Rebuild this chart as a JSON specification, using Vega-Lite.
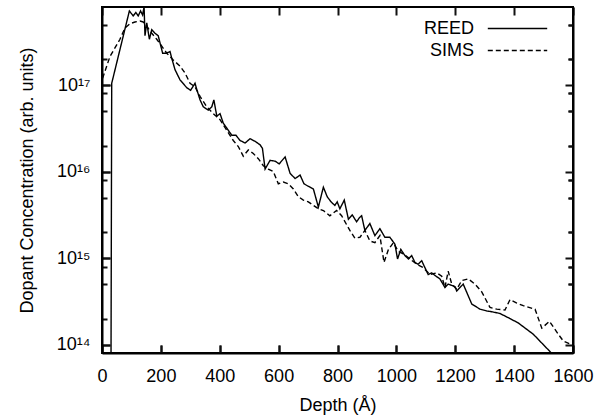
{
  "$schema": "https://vega.github.io/schema/vega-lite/v6.json",
  "width": 471,
  "height": 346,
  "autosize": "none",
  "padding": {"left": 102, "top": 7, "right": 32, "bottom": 66},
  "background": "white",
  "config": {
    "view": {"stroke": "black", "strokeWidth": 2},
    "font": "Liberation Sans",
    "axis": {
      "labelFont": "Liberation Sans",
      "titleFont": "Liberation Sans",
      "labelFontSize": 18,
      "titleFontSize": 18,
      "titleFontWeight": "normal",
      "labelColor": "black",
      "titleColor": "black",
      "labelFlush": false,
      "labelOverlap": false
    },
    "legend": {
      "labelFont": "Liberation Sans"
    }
  },
  "datasets": {
    "profiles": [
      {"series": "REED", "depth": 30, "conc": 1e13},
      {"series": "REED", "depth": 33, "conc": 1.05e17},
      {"series": "REED", "depth": 93, "conc": 7.2e17},
      {"series": "REED", "depth": 106, "conc": 6.31e17},
      {"series": "REED", "depth": 115, "conc": 6.92e17},
      {"series": "REED", "depth": 123, "conc": 6.31e17},
      {"series": "REED", "depth": 131, "conc": 7.2e17},
      {"series": "REED", "depth": 138, "conc": 6.46e17},
      {"series": "REED", "depth": 143, "conc": 8.1e17},
      {"series": "REED", "depth": 146, "conc": 3.72e17},
      {"series": "REED", "depth": 152, "conc": 5.25e17},
      {"series": "REED", "depth": 161, "conc": 3.39e17},
      {"series": "REED", "depth": 169, "conc": 4.37e17},
      {"series": "REED", "depth": 180, "conc": 3.98e17},
      {"series": "REED", "depth": 191, "conc": 3.72e17},
      {"series": "REED", "depth": 197, "conc": 3.09e17},
      {"series": "REED", "depth": 206, "conc": 2.34e17},
      {"series": "REED", "depth": 220, "conc": 2.34e17},
      {"series": "REED", "depth": 231, "conc": 2.45e17},
      {"series": "REED", "depth": 237, "conc": 2.04e17},
      {"series": "REED", "depth": 248, "conc": 1.51e17},
      {"series": "REED", "depth": 265, "conc": 1.15e17},
      {"series": "REED", "depth": 288, "conc": 9.33e16},
      {"series": "REED", "depth": 301, "conc": 8.71e16},
      {"series": "REED", "depth": 316, "conc": 1.05e17},
      {"series": "REED", "depth": 322, "conc": 8.91e16},
      {"series": "REED", "depth": 333, "conc": 6.76e16},
      {"series": "REED", "depth": 344, "conc": 5.62e16},
      {"series": "REED", "depth": 361, "conc": 5.13e16},
      {"series": "REED", "depth": 373, "conc": 5.62e16},
      {"series": "REED", "depth": 380, "conc": 6.76e16},
      {"series": "REED", "depth": 390, "conc": 4.37e16},
      {"series": "REED", "depth": 401, "conc": 4.68e16},
      {"series": "REED", "depth": 412, "conc": 3.63e16},
      {"series": "REED", "depth": 441, "conc": 2.63e16},
      {"series": "REED", "depth": 455, "conc": 2.63e16},
      {"series": "REED", "depth": 469, "conc": 2.29e16},
      {"series": "REED", "depth": 486, "conc": 2.14e16},
      {"series": "REED", "depth": 503, "conc": 2.4e16},
      {"series": "REED", "depth": 520, "conc": 2.24e16},
      {"series": "REED", "depth": 537, "conc": 2.04e16},
      {"series": "REED", "depth": 545, "conc": 1.86e16},
      {"series": "REED", "depth": 554, "conc": 1.07e16},
      {"series": "REED", "depth": 571, "conc": 1.35e16},
      {"series": "REED", "depth": 588, "conc": 1.32e16},
      {"series": "REED", "depth": 602, "conc": 1.23e16},
      {"series": "REED", "depth": 622, "conc": 1.48e16},
      {"series": "REED", "depth": 639, "conc": 9.55e15},
      {"series": "REED", "depth": 656, "conc": 8.32e15},
      {"series": "REED", "depth": 673, "conc": 9.12e15},
      {"series": "REED", "depth": 686, "conc": 7.24e15},
      {"series": "REED", "depth": 701, "conc": 6.76e15},
      {"series": "REED", "depth": 718, "conc": 6.31e15},
      {"series": "REED", "depth": 735, "conc": 3.89e15},
      {"series": "REED", "depth": 752, "conc": 6.61e15},
      {"series": "REED", "depth": 765, "conc": 5.13e15},
      {"series": "REED", "depth": 778, "conc": 4.47e15},
      {"series": "REED", "depth": 791, "conc": 4.07e15},
      {"series": "REED", "depth": 799, "conc": 4.47e15},
      {"series": "REED", "depth": 808, "conc": 3.72e15},
      {"series": "REED", "depth": 823, "conc": 4.68e15},
      {"series": "REED", "depth": 837, "conc": 2.82e15},
      {"series": "REED", "depth": 850, "conc": 3.16e15},
      {"series": "REED", "depth": 865, "conc": 2.63e15},
      {"series": "REED", "depth": 875, "conc": 2.95e15},
      {"series": "REED", "depth": 882, "conc": 3.09e15},
      {"series": "REED", "depth": 893, "conc": 2.09e15},
      {"series": "REED", "depth": 910, "conc": 2.51e15},
      {"series": "REED", "depth": 927, "conc": 1.82e15},
      {"series": "REED", "depth": 944, "conc": 2.19e15},
      {"series": "REED", "depth": 961, "conc": 1.74e15},
      {"series": "REED", "depth": 978, "conc": 1.74e15},
      {"series": "REED", "depth": 995, "conc": 1.45e15},
      {"series": "REED", "depth": 1004, "conc": 9.77e14},
      {"series": "REED", "depth": 1015, "conc": 1.26e15},
      {"series": "REED", "depth": 1029, "conc": 1.07e15},
      {"series": "REED", "depth": 1041, "conc": 9.77e14},
      {"series": "REED", "depth": 1052, "conc": 1.07e15},
      {"series": "REED", "depth": 1063, "conc": 8.91e14},
      {"series": "REED", "depth": 1074, "conc": 8.51e14},
      {"series": "REED", "depth": 1086, "conc": 9.33e14},
      {"series": "REED", "depth": 1097, "conc": 7.76e14},
      {"series": "REED", "depth": 1108, "conc": 6.46e14},
      {"series": "REED", "depth": 1120, "conc": 6.76e14},
      {"series": "REED", "depth": 1131, "conc": 6.31e14},
      {"series": "REED", "depth": 1148, "conc": 5.75e14},
      {"series": "REED", "depth": 1165, "conc": 4.57e14},
      {"series": "REED", "depth": 1176, "conc": 5.01e14},
      {"series": "REED", "depth": 1199, "conc": 4.68e14},
      {"series": "REED", "depth": 1205, "conc": 4.17e14},
      {"series": "REED", "depth": 1227, "conc": 5.01e14},
      {"series": "REED", "depth": 1256, "conc": 2.95e14},
      {"series": "REED", "depth": 1284, "conc": 2.57e14},
      {"series": "REED", "depth": 1307, "conc": 2.45e14},
      {"series": "REED", "depth": 1324, "conc": 2.4e14},
      {"series": "REED", "depth": 1352, "conc": 2.29e14},
      {"series": "REED", "depth": 1386, "conc": 2.0e14},
      {"series": "REED", "depth": 1414, "conc": 1.78e14},
      {"series": "REED", "depth": 1465, "conc": 1.32e14},
      {"series": "REED", "depth": 1522, "conc": 8.3e13},
      {"series": "REED", "depth": 1560, "conc": 5.6e13},
      {"series": "SIMS", "depth": 2, "conc": 1.2e17},
      {"series": "SIMS", "depth": 27, "conc": 2.14e17},
      {"series": "SIMS", "depth": 61, "conc": 3.39e17},
      {"series": "SIMS", "depth": 78, "conc": 4.57e17},
      {"series": "SIMS", "depth": 95, "conc": 5.13e17},
      {"series": "SIMS", "depth": 112, "conc": 5.37e17},
      {"series": "SIMS", "depth": 129, "conc": 5.5e17},
      {"series": "SIMS", "depth": 140, "conc": 5.37e17},
      {"series": "SIMS", "depth": 152, "conc": 4.79e17},
      {"series": "SIMS", "depth": 169, "conc": 3.98e17},
      {"series": "SIMS", "depth": 186, "conc": 3.39e17},
      {"series": "SIMS", "depth": 203, "conc": 2.82e17},
      {"series": "SIMS", "depth": 220, "conc": 2.34e17},
      {"series": "SIMS", "depth": 242, "conc": 1.95e17},
      {"series": "SIMS", "depth": 265, "conc": 1.66e17},
      {"series": "SIMS", "depth": 282, "conc": 1.38e17},
      {"series": "SIMS", "depth": 299, "conc": 1.05e17},
      {"series": "SIMS", "depth": 316, "conc": 9.55e16},
      {"series": "SIMS", "depth": 333, "conc": 7.41e16},
      {"series": "SIMS", "depth": 356, "conc": 5.62e16},
      {"series": "SIMS", "depth": 378, "conc": 4.68e16},
      {"series": "SIMS", "depth": 401, "conc": 3.98e16},
      {"series": "SIMS", "depth": 446, "conc": 2.29e16},
      {"series": "SIMS", "depth": 463, "conc": 1.95e16},
      {"series": "SIMS", "depth": 480, "conc": 1.51e16},
      {"series": "SIMS", "depth": 497, "conc": 1.78e16},
      {"series": "SIMS", "depth": 514, "conc": 1.62e16},
      {"series": "SIMS", "depth": 531, "conc": 1.41e16},
      {"series": "SIMS", "depth": 548, "conc": 1.17e16},
      {"series": "SIMS", "depth": 565, "conc": 1.07e16},
      {"series": "SIMS", "depth": 582, "conc": 1.0e16},
      {"series": "SIMS", "depth": 599, "conc": 7.24e15},
      {"series": "SIMS", "depth": 616, "conc": 7.59e15},
      {"series": "SIMS", "depth": 633, "conc": 7.24e15},
      {"series": "SIMS", "depth": 650, "conc": 6.31e15},
      {"series": "SIMS", "depth": 667, "conc": 5.13e15},
      {"series": "SIMS", "depth": 684, "conc": 4.68e15},
      {"series": "SIMS", "depth": 701, "conc": 4.47e15},
      {"series": "SIMS", "depth": 718, "conc": 4.07e15},
      {"series": "SIMS", "depth": 735, "conc": 3.72e15},
      {"series": "SIMS", "depth": 752, "conc": 3.55e15},
      {"series": "SIMS", "depth": 774, "conc": 3.09e15},
      {"series": "SIMS", "depth": 797, "conc": 3.55e15},
      {"series": "SIMS", "depth": 814, "conc": 3.09e15},
      {"series": "SIMS", "depth": 842, "conc": 2.09e15},
      {"series": "SIMS", "depth": 859, "conc": 1.7e15},
      {"series": "SIMS", "depth": 876, "conc": 1.74e15},
      {"series": "SIMS", "depth": 893, "conc": 2.09e15},
      {"series": "SIMS", "depth": 910, "conc": 1.58e15},
      {"series": "SIMS", "depth": 927, "conc": 1.51e15},
      {"series": "SIMS", "depth": 944, "conc": 1.82e15},
      {"series": "SIMS", "depth": 958, "conc": 8.91e14},
      {"series": "SIMS", "depth": 973, "conc": 1.26e15},
      {"series": "SIMS", "depth": 990, "conc": 1.51e15},
      {"series": "SIMS", "depth": 1006, "conc": 1.2e15},
      {"series": "SIMS", "depth": 1024, "conc": 1.12e15},
      {"series": "SIMS", "depth": 1046, "conc": 9.77e14},
      {"series": "SIMS", "depth": 1069, "conc": 8.51e14},
      {"series": "SIMS", "depth": 1091, "conc": 7.76e14},
      {"series": "SIMS", "depth": 1114, "conc": 6.46e14},
      {"series": "SIMS", "depth": 1137, "conc": 6.76e14},
      {"series": "SIMS", "depth": 1154, "conc": 6.17e14},
      {"series": "SIMS", "depth": 1165, "conc": 4.57e14},
      {"series": "SIMS", "depth": 1176, "conc": 7.08e14},
      {"series": "SIMS", "depth": 1188, "conc": 5.01e14},
      {"series": "SIMS", "depth": 1205, "conc": 4.37e14},
      {"series": "SIMS", "depth": 1222, "conc": 5.5e14},
      {"series": "SIMS", "depth": 1244, "conc": 5.75e14},
      {"series": "SIMS", "depth": 1267, "conc": 5.01e14},
      {"series": "SIMS", "depth": 1290, "conc": 4.07e14},
      {"series": "SIMS", "depth": 1318, "conc": 2.69e14},
      {"series": "SIMS", "depth": 1341, "conc": 2.57e14},
      {"series": "SIMS", "depth": 1369, "conc": 2.51e14},
      {"series": "SIMS", "depth": 1386, "conc": 3.31e14},
      {"series": "SIMS", "depth": 1409, "conc": 3.02e14},
      {"series": "SIMS", "depth": 1431, "conc": 2.82e14},
      {"series": "SIMS", "depth": 1471, "conc": 2.57e14},
      {"series": "SIMS", "depth": 1494, "conc": 1.55e14},
      {"series": "SIMS", "depth": 1520, "conc": 1.86e14},
      {"series": "SIMS", "depth": 1550, "conc": 1.32e14},
      {"series": "SIMS", "depth": 1567, "conc": 1.1e14},
      {"series": "SIMS", "depth": 1590, "conc": 1.02e14},
      {"series": "SIMS", "depth": 1600, "conc": 1.0e14}
    ]
  },
  "data": {"name": "profiles"},
  "resolve": {"axis": {"x": "independent", "y": "independent"}},
  "layer": [
    {
      "mark": {"type": "line", "clip": true, "color": "black", "strokeWidth": 1.4},
      "encoding": {
        "x": {
          "field": "depth",
          "type": "quantitative",
          "scale": {"domain": [0, 1600], "nice": false, "zero": false},
          "axis": {
            "orient": "bottom",
            "title": "Depth (Å)",
            "values": [0, 200, 400, 600, 800, 1000, 1200, 1400, 1600],
            "zindex": 1,
            "domainColor": "black",
            "domainWidth": 2,
            "tickSize": -8,
            "tickColor": "#111111",
            "tickWidth": 2,
            "tickOpacity": 1,
            "grid": true,
            "gridColor": "#111111",
            "gridOpacity": 1,
            "gridWidth": 2,
            "gridDash": [8, 330],
            "labelPadding": 22,
            "titlePadding": 11,
            "format": "d"
          }
        },
        "y": {
          "field": "conc",
          "type": "quantitative",
          "scale": {"type": "log", "domain": [8e13, 8e17], "nice": false},
          "axis": {
            "orient": "left",
            "title": "Dopant Concentration (arb. units)",
            "values": [1e14, 1e15, 1e16, 1e17],
            "zindex": 1,
            "domainColor": "black",
            "domainWidth": 2,
            "tickSize": -8,
            "tickColor": "#111111",
            "tickWidth": 2,
            "tickOpacity": 1,
            "grid": true,
            "gridColor": "#111111",
            "gridOpacity": 1,
            "gridWidth": 2,
            "gridDash": [8, 455],
            "labelExpr": "datum.value == 1e14 ? '10¹⁴' : datum.value == 1e15 ? '10¹⁵' : datum.value == 1e16 ? '10¹⁶' : '10¹⁷'",
            "labelPadding": 20,
            "labelAlign": "right",
            "labelBaseline": "middle",
            "titlePadding": 20
          }
        },
        "strokeDash": {
          "field": "series",
          "type": "nominal",
          "scale": {"domain": ["REED", "SIMS"], "range": [[1, 0], [5, 3]]},
          "legend": {
            "title": null,
            "orient": "none",
            "legendX": 405.5,
            "legendY": 11.5,
            "padding": 0,
            "symbolType": "M-3.3,0H3.3",
            "symbolSize": 324,
            "symbolStrokeWidth": 1.4,
            "symbolStrokeColor": "black",
            "labelFontSize": 18,
            "labelColor": "black",
            "labelAlign": "right",
            "labelOffset": -53.5,
            "rowPadding": 3
          }
        }
      }
    },
    {
      "mark": {"type": "point", "opacity": 0},
      "encoding": {
        "x": {
          "field": "depth",
          "type": "quantitative",
          "scale": {"domain": [0, 1600], "nice": false, "zero": false},
          "axis": null
        },
        "y": {
          "field": "conc",
          "type": "quantitative",
          "scale": {"type": "log", "domain": [8e13, 8e17], "nice": false},
          "axis": {
            "orient": "right",
            "title": null,
            "labels": false,
            "zindex": 1,
            "domainColor": "black",
            "domainWidth": 2,
            "tickSize": -5,
            "tickColor": "#111111",
            "tickWidth": 2,
            "tickOpacity": 1,
            "values": [2e14, 5e14, 8e14, 2e15, 5e15, 8e15, 2e16, 5e16, 8e16, 2e17, 5e17],
            "grid": true,
            "gridColor": "#111111",
            "gridOpacity": 1,
            "gridWidth": 2,
            "gridDash": [5, 461]
          }
        }
      }
    }
  ]
}
